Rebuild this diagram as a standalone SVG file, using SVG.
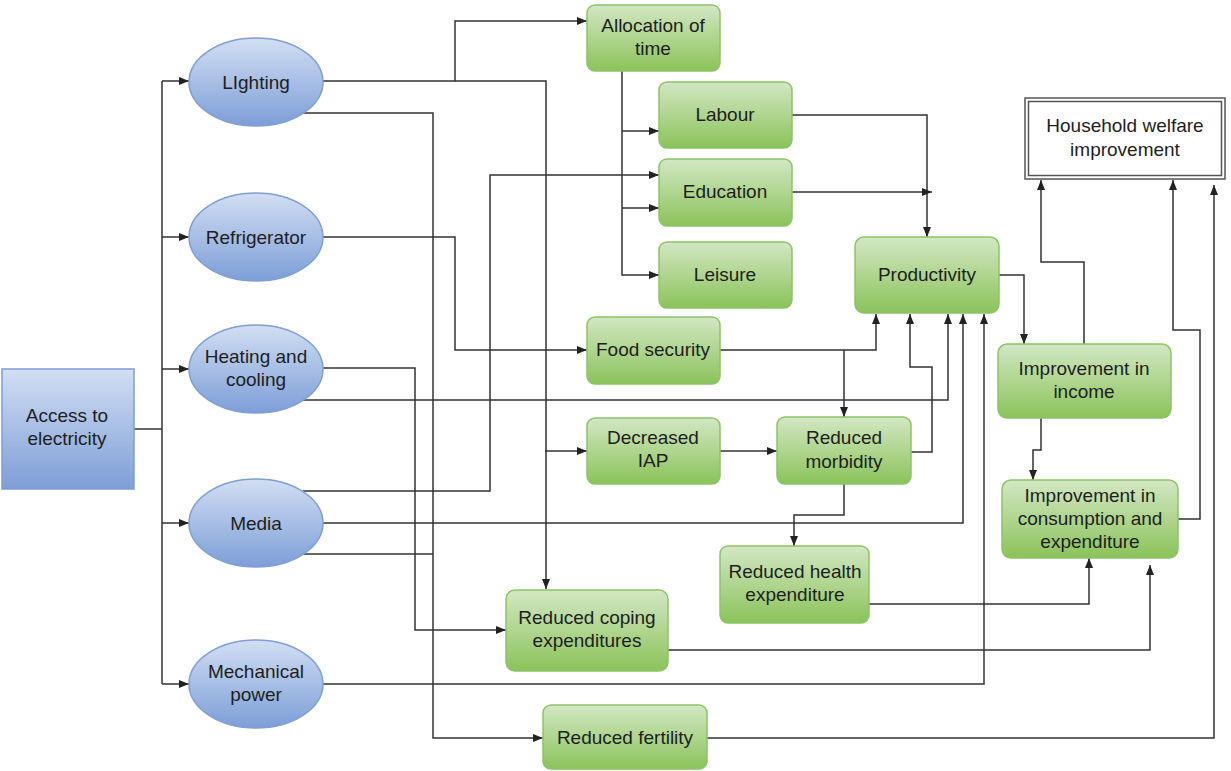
<svg xmlns="http://www.w3.org/2000/svg" width="1231" height="771" viewBox="0 0 1231 771">
<defs>
<linearGradient id="gb" x1="0" y1="0" x2="0" y2="1"><stop offset="0" stop-color="#d2def3"/><stop offset="1" stop-color="#7d9ed7"/></linearGradient>
<linearGradient id="gr" x1="0" y1="0" x2="0" y2="1"><stop offset="0" stop-color="#d3e7c4"/><stop offset="1" stop-color="#8bc35a"/></linearGradient>
<marker id="ah" markerUnits="userSpaceOnUse" markerWidth="10" markerHeight="8" refX="10" refY="4" orient="auto"><path d="M0,0 L10,4 L0,8 z" fill="#222"/></marker>
<style>
text{font-family:"Liberation Sans",Arial,sans-serif;font-size:19px;fill:#1e1e1e;text-anchor:middle}
.e{fill:url(#gb);stroke:#7f9fd5;stroke-width:1.5}
.b{fill:url(#gr);stroke:#8cc468;stroke-width:1.5}
.c path{fill:none;stroke:#333;stroke-width:1.5}
.a{marker-end:url(#ah)}
</style>
</defs>
<rect width="1231" height="771" fill="#fff"/>
<g class="c" id="connectors">
<path d="M134,429 H162"/>
<path d="M162,81 V684"/>
<path class="a" d="M162,81 H189"/>
<path class="a" d="M162,237 H189"/>
<path class="a" d="M162,369 H189"/>
<path class="a" d="M162,523 H189"/>
<path class="a" d="M162,684 H189"/>
<path class="a" d="M323,81 H455 V21 H587"/>
<path class="a" d="M455,81 H546 V589"/>
<path class="a" d="M303,113 H433 V738 H543"/>
<path d="M303,554 H433"/>
<path class="a" d="M323,368 H415 V630 H506"/>
<path class="a" d="M323,237 H455 V350 H587"/>
<path class="a" d="M303,400 H948 V314"/>
<path class="a" d="M303,491 H490 V175 H659"/>
<path class="a" d="M323,523 H963 V314"/>
<path class="a" d="M323,684 H984 V314"/>
<path class="a" d="M622,71 V275 H659"/>
<path class="a" d="M622,131 H659"/>
<path class="a" d="M622,208 H659"/>
<path class="a" d="M792,115 H927 V237"/>
<path class="a" d="M792,192 H932"/>
<path class="a" d="M720,350 H876 V314"/>
<path class="a" d="M844,350 V417"/>
<path class="a" d="M545,451 H587"/>
<path class="a" d="M720,451 H777"/>
<path class="a" d="M911,452 H932 V367 H910 V314"/>
<path class="a" d="M844,484 V515 H794 V546"/>
<path class="a" d="M869,604 H1089 V558"/>
<path class="a" d="M668,650 H1150 V565"/>
<path class="a" d="M707,738 H1214 V185"/>
<path class="a" d="M999,275 H1024 V344"/>
<path class="a" d="M1084,344 V262 H1041 V180"/>
<path class="a" d="M1041,418 V450 H1033 V480"/>
<path class="a" d="M1178,519 H1200 V330 H1173 V180"/>
</g>
<g id="access"><rect x="2" y="369" width="132" height="120" fill="url(#gb)" stroke="#7f9fd5" stroke-width="1.5"/><text x="67" y="422">Access to</text><text x="67" y="445">electricity</text></g>
<g id="lighting"><ellipse class="e" cx="256" cy="82" rx="67" ry="44"/><text x="256" y="89">LIghting</text></g>
<g id="refrigerator"><ellipse class="e" cx="256" cy="237" rx="67" ry="44"/><text x="256" y="244">Refrigerator</text></g>
<g id="heating"><ellipse class="e" cx="256" cy="369" rx="67" ry="44"/><text x="256" y="363">Heating and</text><text x="256" y="386">cooling</text></g>
<g id="media"><ellipse class="e" cx="256" cy="523" rx="67" ry="44"/><text x="256" y="530">Media</text></g>
<g id="mechanical"><ellipse class="e" cx="256" cy="684" rx="67" ry="44"/><text x="256" y="678">Mechanical</text><text x="256" y="701">power</text></g>
<g id="allocation"><rect class="b" x="587" y="5" width="133" height="66" rx="8"/><text x="653" y="32">Allocation of</text><text x="653" y="55">time</text></g>
<g id="labour"><rect class="b" x="659" y="82" width="133" height="66" rx="8"/><text x="725" y="121">Labour</text></g>
<g id="education"><rect class="b" x="659" y="159" width="133" height="67" rx="8"/><text x="725" y="198">Education</text></g>
<g id="leisure"><rect class="b" x="659" y="242" width="133" height="66" rx="8"/><text x="725" y="281">Leisure</text></g>
<g id="food"><rect class="b" x="587" y="317" width="133" height="67" rx="8"/><text x="653" y="356">Food security</text></g>
<g id="iap"><rect class="b" x="587" y="418" width="133" height="66" rx="8"/><text x="653" y="444">Decreased</text><text x="653" y="467">IAP</text></g>
<g id="morbidity"><rect class="b" x="777" y="417" width="134" height="67" rx="8"/><text x="844" y="444">Reduced</text><text x="844" y="468">morbidity</text></g>
<g id="productivity"><rect class="b" x="855" y="237" width="144" height="76" rx="9"/><text x="927" y="281">Productivity</text></g>
<g id="health"><rect class="b" x="720" y="546" width="149" height="77" rx="8"/><text x="795" y="578">Reduced health</text><text x="795" y="601">expenditure</text></g>
<g id="coping"><rect class="b" x="506" y="590" width="162" height="81" rx="9"/><text x="587" y="624">Reduced coping</text><text x="587" y="647">expenditures</text></g>
<g id="fertility"><rect class="b" x="543" y="705" width="164" height="64" rx="8"/><text x="625" y="744">Reduced fertility</text></g>
<g id="income"><rect class="b" x="998" y="344" width="173" height="74" rx="9"/><text x="1084" y="375">Improvement in</text><text x="1084" y="398">income</text></g>
<g id="consumption"><rect class="b" x="1002" y="480" width="176" height="78" rx="9"/><text x="1090" y="502">Improvement in</text><text x="1090" y="525">consumption and</text><text x="1090" y="548">expenditure</text></g>
<g id="welfare"><rect x="1025" y="98" width="200" height="81" fill="#fff" stroke="#555" stroke-width="1.5"/><rect x="1028.5" y="101.5" width="193" height="74" fill="none" stroke="#555" stroke-width="1.5"/><text x="1125" y="132">Household welfare</text><text x="1125" y="156">improvement</text></g>
</svg>
